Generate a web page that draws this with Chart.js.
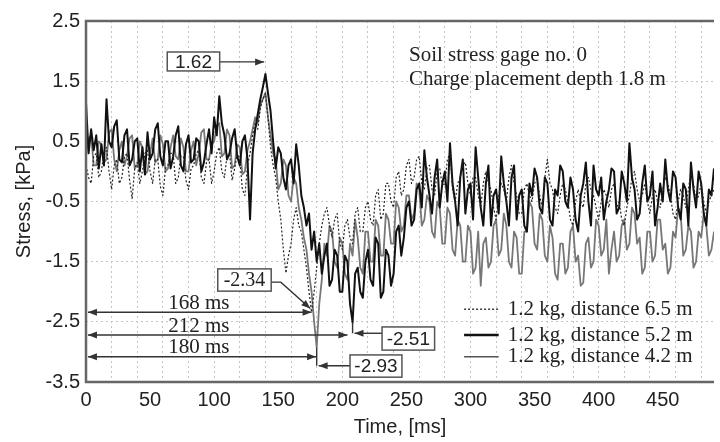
<!DOCTYPE html>
<html>
<head>
<meta charset="utf-8">
<script src="https://cdn.jsdelivr.net/npm/chart.js@4.4.0/dist/chart.umd.min.js"></script>
<style>
  html, body { margin: 0; padding: 0; background: #fff; }
  canvas { display: block; }
</style>
</head>
<body>
<canvas id="stress" width="720" height="442"></canvas>
<script>
// sampling interval of the records, ms
const SAMPLE_MS = 2;

// 1.2 kg, distance 6.5 m (dotted)
const stress65 = [
  0.1, -0.1, -0.2, 0.25, 0.3, -0.1, 0.0, 0.3, 0.4, 0.0, -0.3, 0.1, 0.2, -0.2, -0.1, 0.25, 0.3, -0.15, -0.45, 0.05,
  0.15, -0.2, 0.0, 0.3, 0.35, 0.0, -0.2, 0.2, 0.2, -0.25, -0.4, 0.05, 0.1, 0.3, 0.3, -0.2, -0.1, 0.25, 0.25, -0.15,
  -0.3, 0.05, 0.1, 0.3, 0.35, -0.1, -0.2, 0.15, 0.2, -0.2, 0.0, 0.3, 0.4, 0.0, -0.1, 0.25, 0.3, -0.15, 0.05, 0.3,
  0.2, -0.3, -0.4, 0.1, 0.3, 0.6, 0.8, 0.7, 1.05, 1.2, 1.3, 0.9, 0.4, 0.1, -0.1, -0.5, -0.8, -1.3, -1.69, -1.4,
  -1.2, -0.8, -0.6, -0.9, -1.0, -1.3, -1.6, -2.0, -2.34, -2.0, -1.6, -1.2, -0.9, -0.7, -0.6, -0.9, -1.1, -0.8, -0.7, -1.2,
  -1.3, -0.9, -0.8, -1.1, -1.2, -0.7, -0.6, -1.0, -1.0, -0.6, -0.5, -0.8, -0.9, -0.4, -0.3, -0.8, -0.7, -0.2, -0.2, -0.5,
  -0.6, -0.1, 0.0, -0.4, -0.3, 0.1, 0.2, -0.2, -0.1, 0.2, 0.25, -0.2, -0.3, 0.05, 0.1, -0.3, -0.4, 0.0, 0.05, -0.25,
  -0.2, 0.2, 0.3, -0.3, -0.5, -0.2, -0.1, 0.1, 0.15, -0.2, -0.4, -0.1, -0.1, -0.4, -0.6, -0.2, 0.0, -0.2, -0.3, -0.6,
  -0.8, -0.4, -0.2, -0.3, -0.5, -0.1, 0.1, -0.2, -0.4, -0.7, -0.7, -0.3, -0.2, -0.4, -0.5, -0.2, -0.1, -0.4, -0.6, -0.1,
  0.2, -0.2, -0.3, -0.6, -0.7, -0.4, -0.2, -0.3, -0.5, -0.8, -0.9, -0.5, -0.3, -0.5, -0.6, -0.2, -0.1, -0.3, -0.4, -0.6,
  -0.8, -0.5, -0.3, -0.4, -0.6, -0.3, -0.2, -0.6, -0.5, -0.8, -0.9, -0.6, -0.4, -0.1, 0.0, -0.3, -0.5, -0.4, -0.2, -0.5,
  -0.7, -0.4, -0.3, -0.5, -0.6, -0.3, -0.1, -0.2, -0.4, -0.7, -0.8, -0.5, -0.3, -0.4, -0.6, -0.3, 0.0, -0.2, -0.5, -0.4,
  -0.2, -0.5, -0.7, -0.5, -0.4, -0.3
];

// 1.2 kg, distance 5.2 m (thick black)
const stress52 = [
  1.15, 0.3, 0.7, 0.35, 0.6, 0.05, 0.45, 0.1, 1.2, 0.5, 0.4, 0.75, 0.85, 0.2, 0.15, 0.6, 0.7, 0.1, 0.2, 0.5,
  0.55, 0.0, 0.4, -0.05, 0.65, 0.2, 0.3, 0.7, 0.8, 0.25, 0.1, 0.5, 0.5, 0.05, 0.25, 0.6, 0.75, 0.1, 0.0, 0.45,
  0.6, 0.15, 0.2, 0.55, 0.5, 0.0, 0.15, 0.45, 0.7, 0.3, 0.9, 0.6, 1.25, 0.8, 0.6, 0.2, 0.3, 0.55, 0.7, 0.25,
  0.1, 0.5, 0.6, 0.2, -0.8, 0.3, 0.7, 0.95, 1.2, 1.4, 1.62, 1.3, 1.0, 0.5, 0.05, 0.4, 0.3, -0.1, -0.3, 0.1,
  0.2, -0.2, 0.45, 0.1, -0.4, -0.6, -0.9, -0.7, -1.3, -1.0, -1.5, -1.2, -1.7, -1.4, -1.2, -1.9, -1.8, -1.3, -1.4, -2.0,
  -2.0, -1.4, -1.5, -2.2, -2.51, -1.7, -1.6, -2.0, -2.1, -1.5, -1.3, -1.8, -1.9, -1.1, -1.2, -2.1, -2.0, -1.3, -1.4, -1.9,
  -1.7, -1.0, -0.9, -1.4, -1.1, -0.6, -0.5, -0.9, -0.8, -0.3, -0.2, -0.6, 0.35, -0.1, -0.4, -0.7, -0.1, 0.2, -0.6, -0.2,
  0.0, -0.5, 0.47, -0.2, -0.5, -0.9, -0.1, 0.2, -0.7, -0.3, -0.2, -0.8, 0.4, -0.1, -0.6, -0.9, -0.2, 0.1, -0.9, -0.4,
  -0.3, -0.7, 0.25, -0.2, -0.5, -0.9, -0.1, 0.1, -0.8, -0.4, -0.3, -0.9, -1.0, -0.2, -0.4, 0.05, -0.1, -0.6, -0.7, -0.1,
  -0.2, -0.8, -0.9, -0.3, -0.4, 0.1, 0.0, -0.5, -0.6, -0.1, -0.3, -0.8, -1.0, -0.4, -0.2, 0.15, -0.5, -0.9, 0.1, -0.3,
  -0.4, -0.1, -0.8, -0.5, -0.3, 0.05, 0.0, -0.7, -0.6, 0.0, -0.2, -0.5, 0.47, -0.1, -0.3, -0.8, -0.7, -0.2, 0.1, -0.5,
  -0.4, 0.0, -0.9, -0.6, -0.2, -0.5, 0.2, -0.3, -0.5, 0.0, -0.1, -0.6, -0.8, -0.2, -0.3, -0.9, 0.15, -0.3, -0.6, 0.0,
  -0.2, -0.7, -0.9, -0.3, -0.4, 0.05
];

// 1.2 kg, distance 4.2 m (grey)
const stress42 = [
  0.3, 0.55, 0.6, 0.1, 0.1, 0.5, 0.45, 0.15, 0.2, 0.65, 0.7, 0.2, 0.0, 0.35, 0.5, 0.1, 0.25, 0.55, 0.6, 0.05,
  0.1, 0.5, 0.4, -0.05, 0.0, 0.3, 0.55, 0.15, 0.2, 0.6, 0.45, 0.0, 0.05, 0.4, 0.6, 0.25, 0.2, 0.55, 0.4, 0.0,
  0.0, 0.35, 0.5, 0.1, 0.3, 0.65, 0.7, 0.2, 0.2, 0.45, 0.5, 0.75, 0.8, 0.25, 0.3, 0.7, 0.6, 0.05, 0.1, 0.45,
  0.4, -0.05, 0.0, 0.35, 0.5, 0.7, 0.9, 0.8, 1.1, 1.2, 1.3, 0.9, 0.6, 0.3, 0.2, -0.3, -0.2, 0.2, 0.1, -0.4,
  -0.5, -0.1, -0.2, -0.6, -0.8, -1.1, -1.3, -1.7, -2.0, -2.5, -2.93, -2.2, -1.8, -1.2, -1.4, -0.9, -1.0, -1.5, -1.6, -1.1,
  -1.2, -1.7, -1.8, -1.2, -1.4, -0.8, -1.1, -1.6, -1.7, -1.0, -1.0, -1.5, -1.5, -0.8, -0.9, -1.4, -1.4, -0.7, -0.8, -1.2,
  -1.2, -0.5, -0.6, -1.0, -0.9, -0.4, -0.4, -0.8, -0.7, -0.2, -0.3, -0.9, -0.8, -0.4, -0.5, -1.0, -1.1, -0.5, -0.6, -1.2,
  -1.2, -0.6, -0.7, -1.3, -1.4, -0.8, -0.9, -1.5, -1.5, -0.9, -1.0, -1.7, -1.6, -1.0, -1.9, -1.2, -1.1, -1.6, -1.5, -0.9,
  -0.8, -1.4, -1.3, -0.7, -0.9, -1.5, -1.6, -1.0, -1.1, -1.7, -1.7, -1.0, -1.0, -0.5, -0.6, -1.2, -1.3, -0.7, -0.8, -1.4,
  -1.5, -0.9, -1.1, -1.7, -1.8, -1.2, -1.2, -1.7, -1.6, -1.0, -0.9, -1.5, -1.4, -1.9, -1.85, -1.2, -1.1, -1.6, -1.5, -0.8,
  -0.9, -1.4, -1.3, -0.8, -1.7, -1.3, -1.0, -1.5, -1.4, -0.9, -0.8, -1.3, -1.2, -0.6, -0.7, -1.2, -1.1, -1.7, -1.6, -1.0,
  -1.0, -1.5, -1.4, -0.8, -0.8, -1.3, -1.2, -1.7, -1.6, -1.0, -1.1, -0.6, -0.7, -1.4, -1.3, -0.9, -1.0, -1.6, -1.5, -1.0,
  -1.1, -0.7, -0.9, -1.4, -1.3, -1.0
];

const yTicks = [-3.5, -2.5, -1.5, -0.5, 0.5, 1.5, 2.5];
const legendLabels = ['1.2 kg, distance 6.5 m', '1.2 kg, distance 5.2 m', '1.2 kg, distance 4.2 m'];
const infoLines = ['Soil stress gage no. 0', 'Charge placement depth 1.8 m'];
const delayLabels = ['168 ms', '212 ms', '180 ms'];

const times = stress52.map((_, i) => i * SAMPLE_MS);
const toPoints = arr => arr.map((v, i) => ({ x: times[i], y: v }));

const SANS = '"Liberation Sans", Arial, sans-serif';
const SERIF = '"Liberation Serif", "Times New Roman", serif';
const INK = '#222';

function arrowHead(ctx, x1, y1, x2, y2) {
  const a = Math.atan2(y2 - y1, x2 - x1), L = 9, W = 3.5;
  const c = Math.cos(a), s = Math.sin(a);
  ctx.beginPath();
  ctx.moveTo(x2, y2);
  ctx.lineTo(x2 - L * c + W * s, y2 - L * s - W * c);
  ctx.lineTo(x2 - L * c - W * s, y2 - L * s + W * c);
  ctx.closePath();
  ctx.fill();
}

const extras = {
  id: 'extras',
  afterDraw(chart) {
    const ctx = chart.ctx;
    const sx = chart.scales.x, sy = chart.scales.y;
    const X = v => sx.getPixelForValue(v);
    const Y = v => sy.getPixelForValue(v);
    const area = chart.chartArea;
    ctx.save();

    // frame
    ctx.strokeStyle = '#666';
    ctx.lineWidth = 2.5;
    ctx.beginPath();
    ctx.moveTo(area.right, area.top);
    ctx.lineTo(area.left, area.top);
    ctx.lineTo(area.left, area.bottom);
    ctx.lineTo(area.right, area.bottom);
    ctx.stroke();

    ctx.strokeStyle = '#333';
    ctx.fillStyle = '#333';
    ctx.lineWidth = 1.4;

    const line = pts => {
      ctx.beginPath();
      pts.forEach((p, i) => i ? ctx.lineTo(X(p[0]), Y(p[1])) : ctx.moveTo(X(p[0]), Y(p[1])));
      ctx.stroke();
    };
    const arrow = pts => {
      line(pts);
      const a = pts[pts.length - 2], b = pts[pts.length - 1];
      arrowHead(ctx, X(a[0]), Y(a[1]), X(b[0]), Y(b[1]));
    };
    const box = (text, t0, t1, v0, v1, font) => {
      const x0 = X(t0), x1 = X(t1), y0 = Y(v0), y1 = Y(v1);
      ctx.fillStyle = '#fff';
      ctx.fillRect(x0, y0, x1 - x0, y1 - y0);
      ctx.strokeStyle = '#555';
      ctx.lineWidth = 1.5;
      ctx.strokeRect(x0, y0, x1 - x0, y1 - y0);
      ctx.fillStyle = INK;
      ctx.font = font;
      ctx.textAlign = 'center';
      ctx.textBaseline = 'middle';
      ctx.fillText(text, (x0 + x1) / 2, (y0 + y1) / 2 + 1);
      ctx.strokeStyle = '#333';
      ctx.fillStyle = '#333';
      ctx.lineWidth = 1.4;
    };

    // peak 1.62
    arrow([[104.3, 1.82], [139, 1.82]]);
    box('1.62', 63.4, 104.3, 1.985, 1.67, '19px ' + SANS);

    // min -2.34
    arrow([[144.5, -1.84], [152, -1.84], [175, -2.28]]);
    box('-2.34', 102.8, 144.5, -1.62, -1.99, '20px ' + SERIF);

    // min -2.51
    line([[208, -2.51], [208, -2.69]]);
    arrow([[231, -2.69], [209.5, -2.69]]);
    box('-2.51', 231, 272, -2.585, -2.97, '19px ' + SANS);

    // min -2.93
    line([[180, -2.93], [180, -3.23]]);
    arrow([[206, -3.23], [181.5, -3.23]]);
    box('-2.93', 206, 246.5, -3.05, -3.42, '19px ' + SANS);

    // arrival time arrows
    const delays = [[-2.34, 176], [-2.72, 204], [-3.08, 179.5]];
    ctx.font = '21px ' + SERIF;
    ctx.textAlign = 'center';
    ctx.textBaseline = 'middle';
    delays.forEach((d, i) => {
      const y = Y(d[0]);
      ctx.beginPath();
      ctx.moveTo(X(1.5), y);
      ctx.lineTo(X(d[1]), y);
      ctx.stroke();
      arrowHead(ctx, X(20), y, X(1.5), y);
      arrowHead(ctx, X(100), y, X(d[1]), y);
      ctx.fillStyle = INK;
      ctx.fillText(delayLabels[i], X(88), y - 9);
      ctx.fillStyle = '#333';
    });

    // info text
    ctx.fillStyle = INK;
    ctx.textAlign = 'left';
    ctx.font = '21px ' + SERIF;
    ctx.fillText(infoLines[0], X(252), Y(1.935));
    ctx.fillText(infoLines[1], X(252), Y(1.52));

    // legend
    const styles = [
      { color: '#222', width: 1.3, dash: [2, 2] },
      { color: '#111', width: 2.4, dash: [] },
      { color: '#555', width: 1.6, dash: [] }
    ];
    const rows = [-2.29, -2.72, -3.08];
    rows.forEach((v, i) => {
      const y = Y(v);
      ctx.strokeStyle = styles[i].color;
      ctx.lineWidth = styles[i].width;
      ctx.setLineDash(styles[i].dash);
      ctx.beginPath();
      ctx.moveTo(X(295), y);
      ctx.lineTo(X(322), y);
      ctx.stroke();
      ctx.setLineDash([]);
      ctx.fillStyle = INK;
      ctx.fillText(legendLabels[i], X(329), y);
    });

    ctx.restore();
  }
};

new Chart(document.getElementById('stress'), {
  type: 'line',
  data: {
    datasets: [
      {
        label: legendLabels[0],
        data: toPoints(stress65),
        borderColor: '#222',
        borderWidth: 1.2,
        borderDash: [2, 2],
        pointRadius: 0,
        order: 1
      },
      {
        label: legendLabels[1],
        data: toPoints(stress52),
        borderColor: '#111',
        borderWidth: 2,
        pointRadius: 0,
        order: 2
      },
      {
        label: legendLabels[2],
        data: toPoints(stress42),
        borderColor: '#777',
        borderWidth: 1.8,
        pointRadius: 0,
        order: 3
      }
    ]
  },
  options: {
    responsive: false,
    animation: false,
    devicePixelRatio: 1,
    layout: { padding: { top: 21, right: 0, bottom: 0, left: 0 } },
    plugins: { legend: { display: false }, tooltip: { enabled: false } },
    elements: { line: { tension: 0, borderJoinStyle: 'round' } },
    scales: {
      x: {
        type: 'linear',
        min: 0,
        max: 490,
        afterFit: s => { s.height = 60; },
        grid: {
          drawTicks: false,
          color: c => (c.tick && c.tick.value % 20 === 0) ? '#c4c4c4' : 'rgba(0,0,0,0)'
        },
        border: { display: false, dash: [2, 3] },
        ticks: {
          stepSize: 10,
          autoSkip: false,
          maxRotation: 0,
          padding: 6,
          color: INK,
          font: { family: SANS, size: 20 },
          callback: v => (v % 50 === 0 ? String(v) : '')
        },
        title: {
          display: true,
          text: 'Time, [ms]',
          color: INK,
          font: { family: SANS, size: 20 },
          padding: { top: 0, bottom: 3 }
        }
      },
      y: {
        min: -3.5,
        max: 2.5,
        afterFit: s => { s.width = 86; },
        afterBuildTicks: s => { s.ticks = yTicks.map(v => ({ value: v })); },
        grid: { drawTicks: false, color: '#c4c4c4' },
        border: { display: false, dash: [2, 3] },
        ticks: {
          padding: 6,
          color: INK,
          font: { family: SANS, size: 20 },
          callback: v => String(v)
        },
        title: {
          display: true,
          text: 'Stress, [kPa]',
          color: INK,
          font: { family: SANS, size: 20 },
          padding: { top: 12, bottom: 0 }
        }
      }
    }
  },
  plugins: [extras]
});
</script>
</body>
</html>
